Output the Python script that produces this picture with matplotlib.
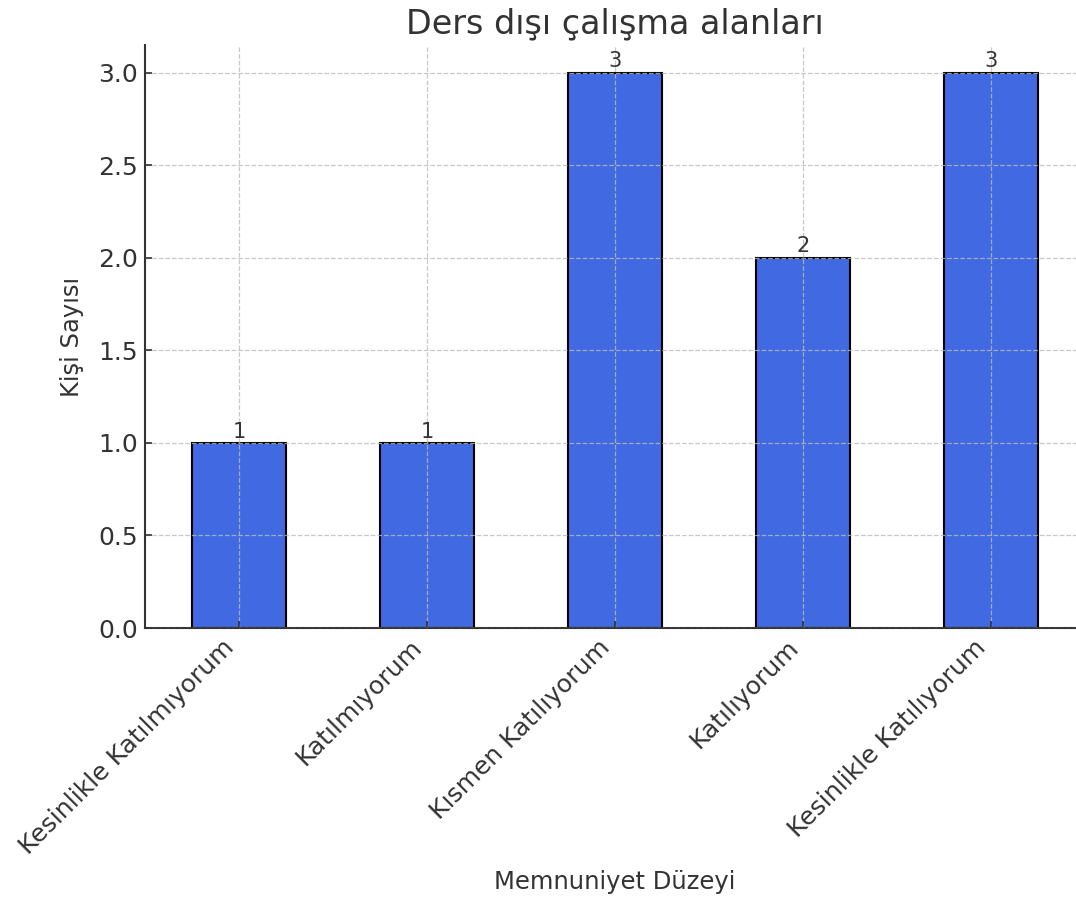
import matplotlib
matplotlib.use("Agg")
import matplotlib.pyplot as plt

categories = ["Kesinlikle Katılmıyorum", "Katılmıyorum", "Kısmen Katılıyorum",
              "Katılıyorum", "Kesinlikle Katılıyorum"]
counts = [1, 1, 3, 2, 3]

text_color = "#333333"
plt.rcParams["font.family"] = "DejaVu Sans"

fig = plt.figure(figsize=(10.76, 8.98), dpi=100)
ax = fig.add_axes([145 / 1076, 1 - 628 / 898, 940 / 1076, 583 / 898])

x = list(range(len(categories)))
bars = ax.bar(x, counts, width=0.5, color="royalblue", edgecolor="black", linewidth=1.5)
ax.bar_label(bars, labels=[str(c) for c in counts], padding=1, fontsize=15, color=text_color)

ax.set_xlim(-0.5, len(categories) - 0.5)
ax.set_ylim(0, 3.15)
ax.set_xticks(x)
ax.set_xticklabels(categories, rotation=45, ha="right", fontsize=18, color=text_color)
ax.set_yticks([0, 0.5, 1.0, 1.5, 2.0, 2.5, 3.0])
ax.set_yticklabels(["0.0", "0.5", "1.0", "1.5", "2.0", "2.5", "3.0"], fontsize=18, color=text_color)
ax.tick_params(direction="in", length=5, width=1.2, colors=text_color, pad=5)

ax.grid(True, linestyle="--", color="#bbbbbb", linewidth=0.9, alpha=0.8)
ax.set_axisbelow(False)

for side in ["top", "right"]:
    ax.spines[side].set_visible(False)
for side in ["left", "bottom"]:
    ax.spines[side].set_color(text_color)
    ax.spines[side].set_linewidth(1.5)

ax.set_title("Ders dışı çalışma alanları", fontsize=24, color=text_color, pad=8)
ax.set_ylabel("Kişi Sayısı", fontsize=17.5, color=text_color, labelpad=10)
ax.set_xlabel("Memnuniyet Düzeyi", fontsize=17.5, color=text_color, labelpad=8)

fig.savefig("out.png", dpi=100)
